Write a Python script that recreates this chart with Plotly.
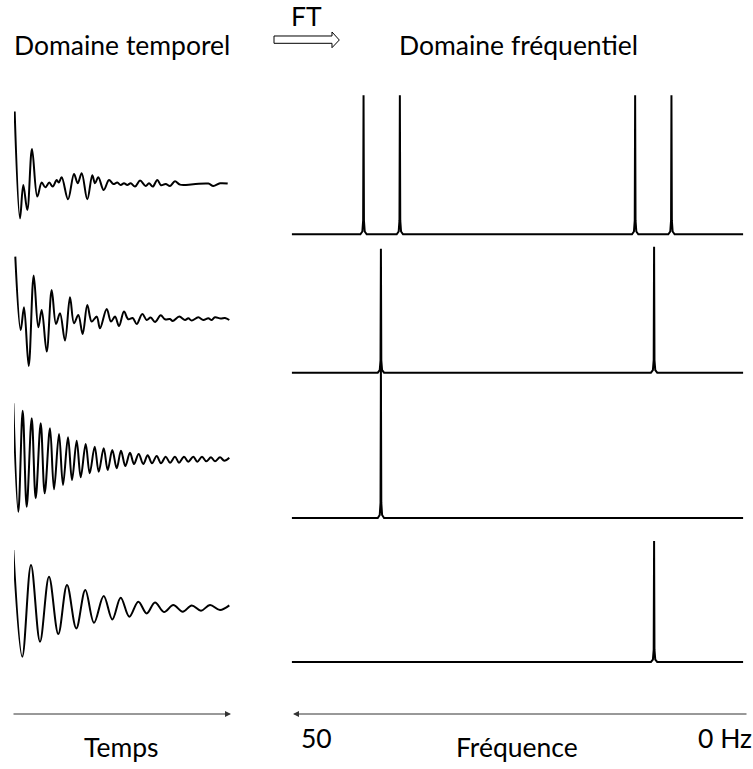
import plotly.graph_objects as go

W, H = 753, 769

# ---------------- data: time domain (FID) ----------------
# time in arbitrary units (0..216), amplitude in arbitrary units
fid1_t = [0.67, 6, 9.3, 13.3, 18, 23.3, 27.7, 31.3, 35.3, 38.7,
          42.7, 44.7, 47.7, 54, 60, 63.7, 67.7, 73.3, 78.3, 81,
          84.3, 89.7, 95, 99.3, 103.3, 106.7, 110, 113.3, 116.7, 121,
          126, 131.7, 135, 138.7, 143.3, 147, 151.7, 156, 161, 166,
          179.3, 194.3, 199.3, 206, 213.7]
fid1_a = [71.7, -35, -1.7, -26.7, 34.3, -13.3, 0.7, -4, 0.7, -3.3,
          3.3, 0.7, 6, -16, 9.3, 0, 10, -16, 8, 0,
          6, -6.7, 3.3, -0.7, 0.7, -1.7, 0, -1.7, 0, -3.3,
          2.7, -2.7, 0, -3.3, 3.3, -2, -0.7, -2.7, 2, -1.3,
          -1, -0.3, -2.7, 0, -0.3]

fid2_t = [1.3, 6.7, 10, 14.7, 19.7, 24.3, 27.7, 32.7, 37.7, 42,
          46, 51, 56, 60, 64.3, 68.7, 73.3, 77.7, 82.7, 86,
          92.7, 97, 101, 105, 110, 114.3, 118.7, 122.7, 128.3, 132.7,
          136.7, 141, 146.7, 151, 156, 158.7, 165.3, 171, 174.3, 177.7,
          184.3, 189.3, 194.3, 197.7, 201, 206.7, 211, 215.3]
fid2_a = [62.7, -10.7, 12, -46.7, 43.7, -8, 9.3, -32.3, 29.3, -4.7,
          6, -21.3, 22, -4, 4.3, -14.7, 14.3, -2.3, 2.7, -9,
          10.3, -2.3, 2.7, -6.7, 7.7, 0, 1.3, -4.7, 5.3, -0.7,
          1.7, -2.7, 4, 0, 0.3, -1.7, 2.7, -0.7, 1, -1.3,
          2, -0.7, 1, -0.7, 2, 0.7, 1.3, -0.7]

fid3_t = [-0.7, 4.3, 8.7, 12.7, 17.7, 21.7, 26.7, 30.7, 36, 40,
          45, 49, 54, 58, 62.7, 66.7, 71.7, 75.7, 80.7, 84.7,
          89.7, 93.7, 98.3, 102.7, 107, 111.3, 116, 120, 124.7, 129.3,
          133.7, 138, 142.7, 147, 151.7, 156, 161, 165, 170, 174.3,
          179.3, 183.3, 188, 192.3, 197, 201, 206, 210.3, 215.3]
fid3_a = [56.7, -51.7, 49.3, -46.7, 41.7, -38.3, 36.7, -33.3, 31.7, -29.3,
          26, -25, 22.7, -20, 19.3, -17.3, 16, -13.3, 13.3, -11.7,
          11.7, -10, 10, -8.3, 9.3, -6, 7.3, -4, 6, -4,
          4.7, -3.3, 4, -3.3, 3.3, -2.7, 3.3, -2.7, 3.3, -1.7,
          3.3, -1.7, 3.3, -1.3, 2.7, -1.3, 2.7, -0.7, 2.3]

fid4_t = [-0.7, 8.3, 17, 26, 35, 44.3, 53, 62.3, 71.3, 80,
          89.7, 98.3, 106.7, 115.3, 124.3, 132.7, 141, 150, 159.3, 168.7,
          177.7, 187, 196, 206, 215.3]
fid4_a = [56.7, -50, 41.7, -35, 30, -27.3, 21.7, -21.7, 16.7, -16,
          10.7, -12.7, 9, -10, 5, -6.7, 4.3, -5.3, 1.7, -5,
          1.3, -4, 1.7, -3.3, 1.3]

# ---------------- data: frequency domain ----------------
spec_window = [-4.0, 53.2]          # Hz, spectral window edges
peaks1_f = [5.1, 9.7, 39.5, 44.1]
peaks1_h = [139, 139, 139, 139]
peaks2_f = [7.3, 41.9]
peaks2_h = [126, 124]
peaks3_f = [41.9]
peaks3_h = [151]
peaks4_f = [7.3]
peaks4_h = [121]

# texts
title_time = "Domaine temporel"
title_freq = "Domaine fréquentiel"
ft_label = "FT"
time_label = "Temps"
freq_label = "Fréquence"
freq_tick_high = "50"
freq_tick_low = "0 Hz"

fids = [(fid1_t, fid1_a), (fid2_t, fid2_a), (fid3_t, fid3_a), (fid4_t, fid4_a)]
specs = [(peaks1_f, peaks1_h), (peaks2_f, peaks2_h),
         (peaks3_f, peaks3_h), (peaks4_f, peaks4_h)]

# spike outline around each peak (offset in Hz, fraction of height)
foot_off = [-0.4, -0.15, -0.05, 0.0, 0.05, 0.15, 0.4]
foot_frac = [0.0, 0.02, 0.1, 1.0, 0.1, 0.02, 0.0]


def spectrum_points(pf, ph):
    xs, ys = [spec_window[0]], [0.0]
    for f, h in sorted(zip(pf, ph)):
        for o, fr in zip(foot_off, foot_frac):
            xs.append(f + o)
            ys.append(h * fr)
    xs.append(spec_window[1])
    ys.append(0.0)
    return xs, ys


def px(x):
    return x / W


def py(y):
    return 1 - y / H


fig = go.Figure()
layout = dict(
    width=W, height=H, margin=dict(l=0, r=0, t=0, b=0),
    paper_bgcolor="white", plot_bgcolor="rgba(0,0,0,0)",
    showlegend=False,
)

left_base = [183.3, 319.3, 460.0, 606.7]
right_base = [234.3, 372.7, 518.0, 662.0]

n = 0
for i, (t, a) in enumerate(fids):
    n += 1
    fig.add_trace(go.Scatter(x=t, y=a, mode="lines",
                             line=dict(color="black", width=2, shape="spline", smoothing=1.0),
                             xaxis=f"x{n}", yaxis=f"y{n}", hoverinfo="skip"))
    b = left_base[i]
    layout[f"xaxis{n}"] = dict(domain=[px(14), px(230)], range=[0, 216],
                               visible=False, anchor=f"y{n}")
    layout[f"yaxis{n}"] = dict(domain=[py(b + 55), py(b - 80)], range=[-55, 80],
                               visible=False, anchor=f"x{n}")

for i, (pf, ph) in enumerate(specs):
    n += 1
    xs, ys = spectrum_points(pf, ph)
    fig.add_trace(go.Scatter(x=xs, y=ys, mode="lines",
                             line=dict(color="black", width=2),
                             xaxis=f"x{n}", yaxis=f"y{n}", hoverinfo="skip",
                             cliponaxis=False))
    b = right_base[i]
    layout[f"xaxis{n}"] = dict(domain=[px(291.7), px(743.3)], range=[spec_window[1], spec_window[0]],
                               visible=False, anchor=f"y{n}")
    layout[f"yaxis{n}"] = dict(domain=[py(b + 10), py(b - 160)], range=[-10, 160],
                               visible=False, anchor=f"x{n}")

FONT = "Lato"
FS = 26.5


def text(s, x, y, xanchor="center"):
    return dict(text=s, x=px(x), y=py(y), xref="paper", yref="paper",
                showarrow=False, xanchor=xanchor, yanchor="middle",
                font=dict(family=FONT, size=FS, color="black"))


def arrow(x_head, x_tail, y):
    return dict(x=px(x_head), y=py(y), ax=x_tail - x_head, ay=0,
                xref="paper", yref="paper", axref="pixel", ayref="pixel",
                text="", showarrow=True, arrowhead=2, arrowsize=1.2,
                arrowwidth=1, arrowcolor="#333333")


annotations = [
    text(title_time, 12, 45, "left"),
    text(title_freq, 397, 45, "left"),
    text(ft_label, 306, 16),
    text(time_label, 121, 747),
    text(freq_label, 517, 747),
    text(freq_tick_high, 316, 738),
    text(freq_tick_low, 725, 738),
    arrow(231, 12, 714),
    arrow(293, 748, 714),
]
layout["annotations"] = annotations

# hollow FT arrow
pts = [(274, 36), (332, 36), (332, 32), (339.3, 40), (332, 47.7), (332, 43.3), (274, 43.3)]
path = "M " + " L ".join(f"{px(x):.5f},{py(y):.5f}" for x, y in pts) + " Z"
layout["shapes"] = [dict(type="path", path=path, xref="paper", yref="paper",
                         line=dict(color="black", width=1), fillcolor="white")]

fig.update_layout(**layout)
fig.write_html("out.html", config={"displayModeBar": False, "staticPlot": True},
               post_script="document.body.style.margin='0';document.body.style.padding='0';")
